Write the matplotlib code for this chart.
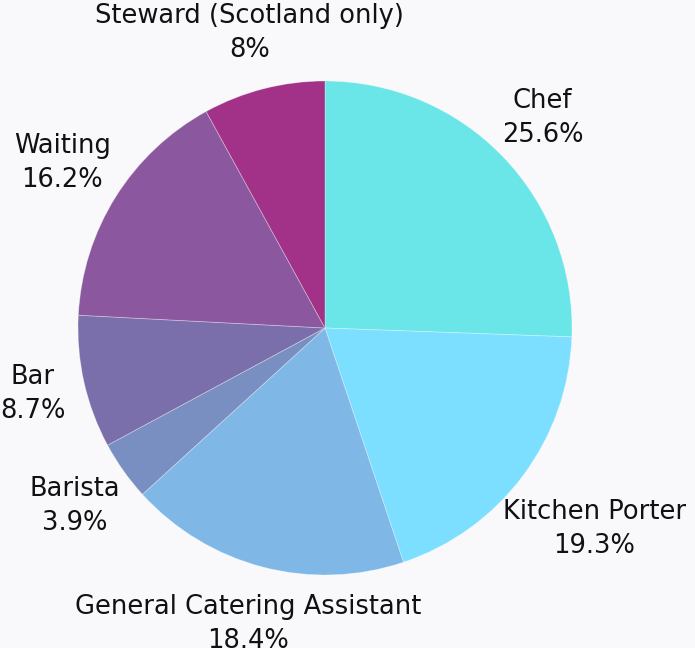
import matplotlib
matplotlib.use("Agg")
import matplotlib.pyplot as plt
import numpy as np

# data
roles = ["Chef", "Kitchen Porter", "General Catering Assistant", "Barista",
         "Bar", "Waiting", "Steward (Scotland only)"]
shares = [25.6, 19.3, 18.4, 3.9, 8.7, 16.2, 8.0]
share_labels = ["25.6%", "19.3%", "18.4%", "3.9%", "8.7%", "16.2%", "8%"]
colors = ["#6ae5e8", "#7ddfff", "#7fb8e6", "#7a8fc1", "#7a6fab", "#8b579f", "#a23287"]

BG = "#f9f9fc"
W, H = 695, 648

fig = plt.figure(figsize=(W / 100, H / 100), dpi=100, facecolor=BG)
ax = fig.add_axes([0, 0, 1, 1])
ax.set_facecolor(BG)

cx, cy, R = 325, H - 328, 247
wedges, _ = ax.pie(shares, colors=colors, startangle=90, counterclock=False,
                   center=(cx, cy), radius=R, frame=True,
                   wedgeprops=dict(edgecolor=(1, 1, 1, 0.35), linewidth=0.6))
ax.set_xlim(0, W)
ax.set_ylim(0, H)
ax.set_aspect("equal")
ax.axis("off")

renderer = fig.canvas.get_renderer()

# labels sit on the radial line of each slice, pushed out by half their box
r0 = 1.08 * R
for w, name, lab in zip(wedges, roles, share_labels):
    mid = np.deg2rad((w.theta1 + w.theta2) / 2)
    c, s = np.cos(mid), np.sin(mid)
    t = ax.text(0, 0, f"{name}\n{lab}", ha="center", va="center",
                fontsize=18.5, color="#111111", linespacing=1.4,
                family=["DejaVu Sans"])
    bb = t.get_window_extent(renderer)
    half = bb.width / 2 * c * c + bb.height / 2 * s * s
    t.set_position((cx + (r0 + half) * c, cy + (r0 + half) * s))

fig.savefig("out.png", dpi=100, facecolor=BG)
